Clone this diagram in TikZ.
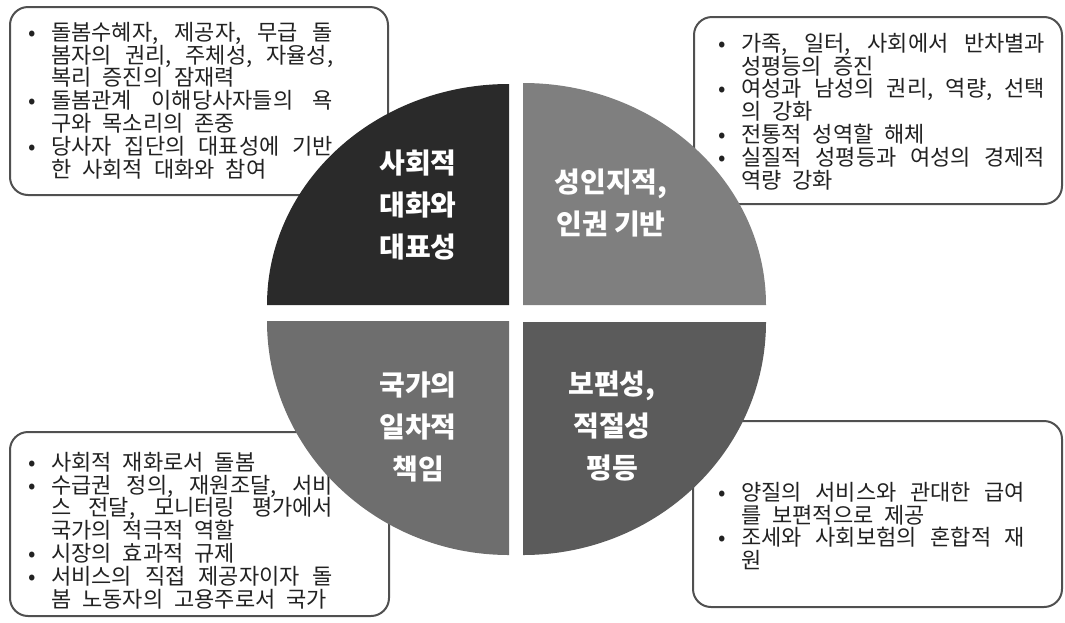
\documentclass[tikz,border=0pt]{standalone}
\usepackage{fontspec}
\setmainfont{Noto Sans CJK KR}
\definecolor{boxgray}{HTML}{505050}
\definecolor{textgray}{HTML}{222222}
\definecolor{qtl}{HTML}{2A2A2A}
\definecolor{qtr}{HTML}{7F7F7F}
\definecolor{qbl}{HTML}{6E6E6E}
\definecolor{qbr}{HTML}{5B5B5B}
\newcommand\bul{\makebox[19pt][l]{\makebox[0pt][c]{•}}}
\newcommand\ind{\hspace*{19pt}}
\newcommand\jl[2]{\makebox[#1pt][s]{#2}}
\newcommand\fst{\rule{0pt}{19pt}}
\newcommand\boxfont{\fontsize{22}{22.8}\selectfont\spaceskip=11pt plus 30pt minus 3pt\relax}
\tikzset{
  boxnode/.style={draw=boxgray, line width=2pt, rounded corners=18pt, fill=white, rectangle, inner sep=0pt},
  btext/.style={anchor=north west, inner sep=0pt, align=left, text=textgray, font=\boxfont},
  qlabel/.style={align=center, text=white, inner sep=0pt,
    font=\bfseries\fontsize{28}{42}\selectfont},
}
\begin{document}
\begin{tikzpicture}[x=1pt,y=-1pt]
\useasboundingbox (0,0) rectangle (1065,622);
% boxes
\node[boxnode, minimum width=378pt, minimum height=188pt] (tlbox) at (199,101) {};
\node[boxnode, minimum width=368pt, minimum height=187pt] (trbox) at (878,110.5) {};
\node[boxnode, minimum width=379pt, minimum height=184pt] (blbox) at (199.5,524) {};
\node[boxnode, minimum width=369pt, minimum height=186pt] (brbox) at (877.5,514) {};
% box texts
\node[btext] (tltext) at (32,21) {\fst\bul\jl{282}{돌봄수혜자, 제공자, 무급 돌}\\
\ind\jl{282}{봄자의 권리, 주체성, 자율성,}\\
\ind 복리 증진의 잠재력\\
\bul\jl{282}{돌봄관계 이해당사자들의 욕}\\
\ind 구와 목소리의 존중\\
\bul\jl{282}{당사자 집단의 대표성에 기반}\\
\ind 한 사회적 대화와 참여};
\node[btext] (trtext) at (722,32) {\fst\bul\jl{304}{가족, 일터, 사회에서 반차별과}\\
\ind 성평등의 증진\\
\bul\jl{304}{여성과 남성의 권리, 역량, 선택}\\
\ind 의 강화\\
\bul 전통적 성역할 해체\\
\bul\jl{304}{실질적 성평등과 여성의 경제적}\\
\ind 역량 강화};
\node[btext] (bltext) at (32,451) {\fst\bul 사회적 재화로서 돌봄\\
\bul\jl{282}{수급권 정의, 재원조달, 서비}\\
\ind\jl{282}{스 전달, 모니터링 평가에서}\\
\ind 국가의 적극적 역할\\
\bul 시장의 효과적 규제\\
\bul\jl{282}{서비스의 직접 제공자이자 돌}\\
\ind 봄 노동자의 고용주로서 국가};
\node[btext] (brtext) at (722,481) {\fst\bul\jl{284}{양질의 서비스와 관대한 급여}\\
\ind 를 보편적으로 제공\\
\bul\jl{284}{조세와 사회보험의 혼합적 재}\\
\ind 원};
% pie quadrants
\fill[qtl] (509,305) -- (267,305) arc[start angle=180,end angle=270,x radius=242,y radius=221] -- cycle;
\fill[qtr] (523,305) -- (523,83) arc[start angle=270,end angle=360,x radius=243,y radius=222] -- cycle;
\fill[qbr] (523,322) -- (766,322) arc[start angle=0,end angle=90,x radius=243,y radius=233] -- cycle;
\fill[qbl] (509,321) -- (509,555) arc[start angle=90,end angle=180,x radius=242,y radius=234] -- cycle;
% labels
\node[qlabel] (tllab) at (418,205) {사회적\\대화와\\대표성};
\node[qlabel] (trlab) at (611,203) {성인지적,\\인권 기반};
\node[qlabel] (bllab) at (418,427) {국가의\\일차적\\책임};
\node[qlabel] (brlab) at (612,426) {보편성,\\적절성\\평등};
\end{tikzpicture}
\end{document}
